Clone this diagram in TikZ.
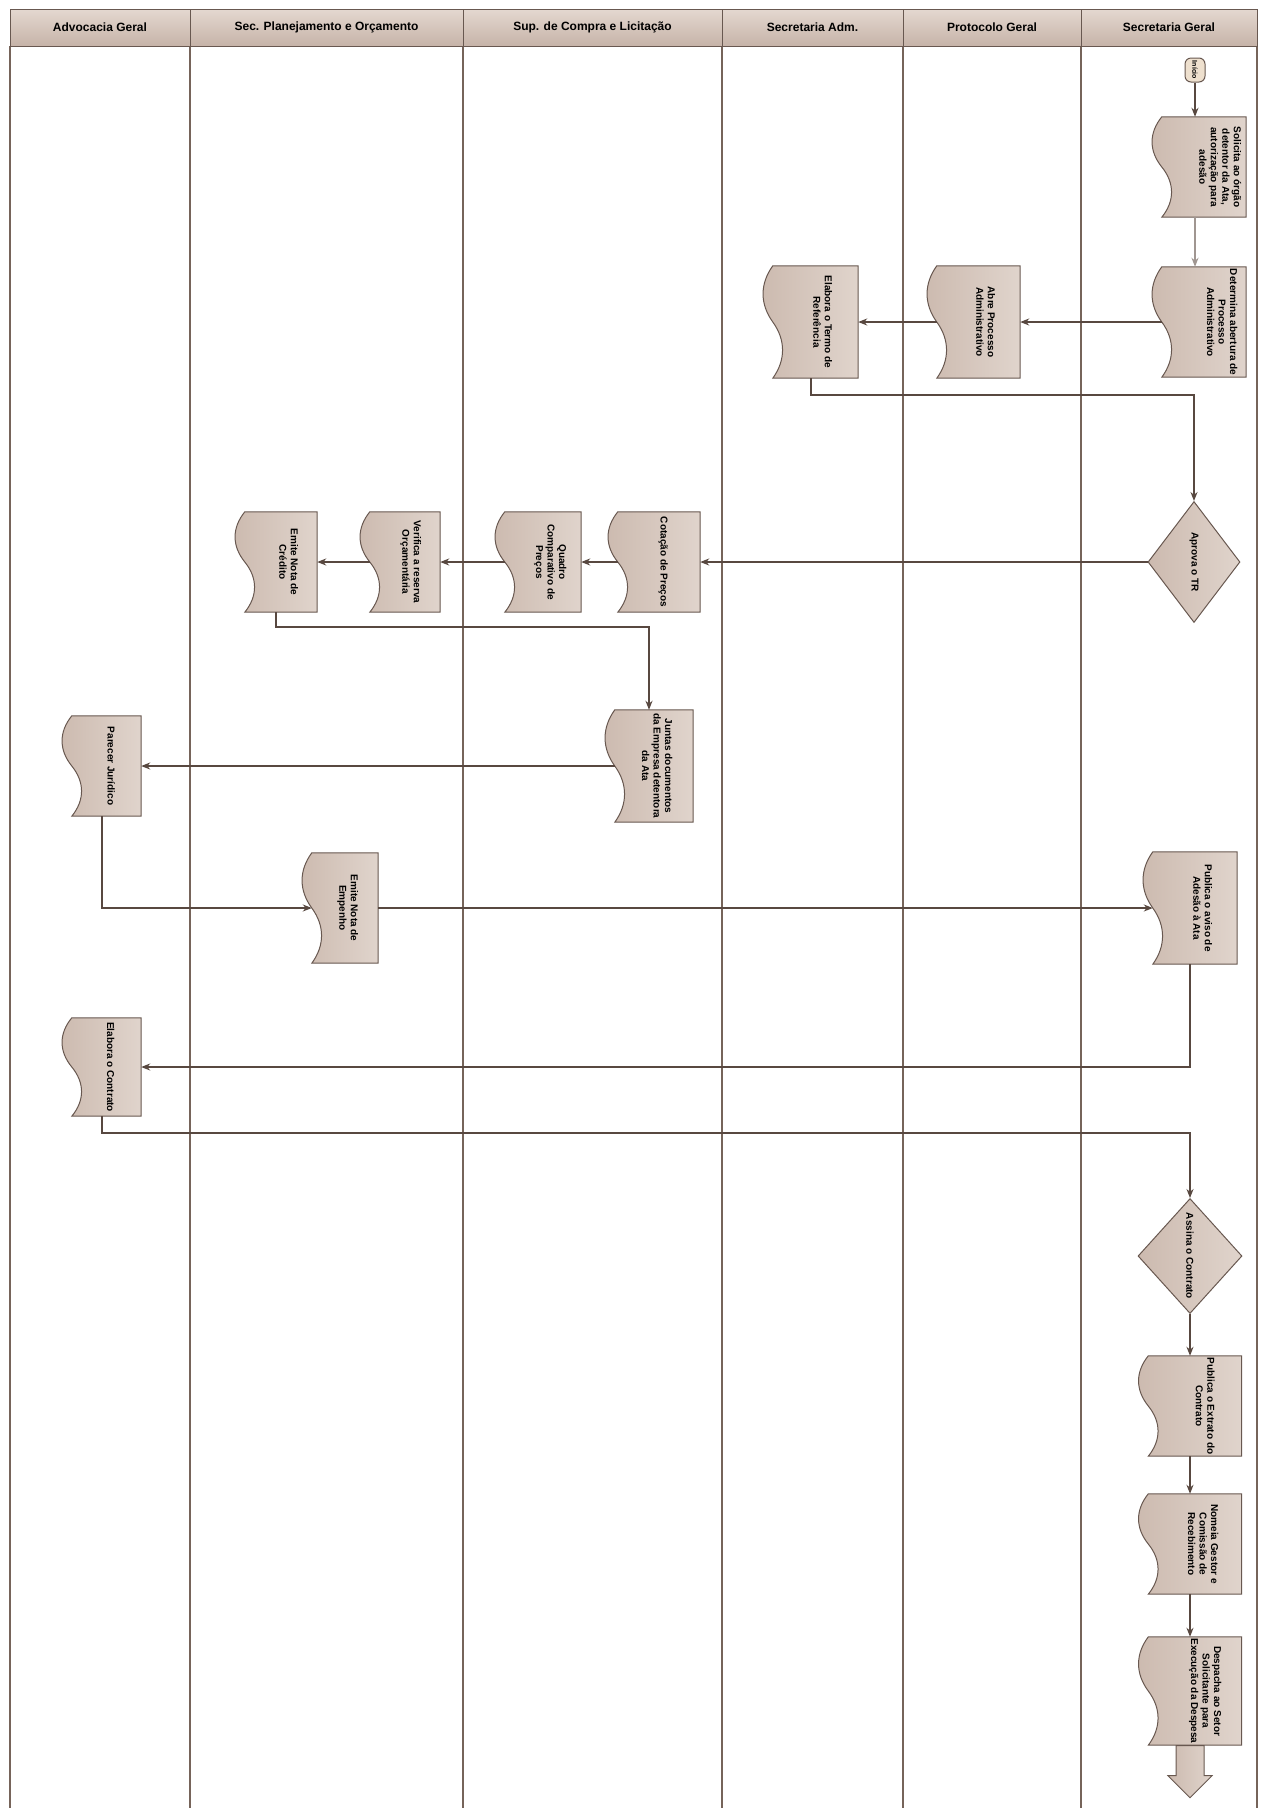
\documentclass[tikz,border=0pt]{standalone}
\usepackage{fontspec}
\setmainfont{Liberation Sans}
\usepackage{graphicx}
\usetikzlibrary{arrows.meta,positioning,calc,backgrounds,shapes.geometric,shapes.arrows}
\definecolor{headtop}{RGB}{228,216,208}
\definecolor{headbot}{RGB}{198,179,168}
\definecolor{docleft}{RGB}{204,186,175}
\definecolor{docright}{RGB}{224,212,204}
\definecolor{edgecol}{RGB}{104,88,80}
\definecolor{flowcol}{RGB}{88,72,64}
\definecolor{lanecol}{RGB}{118,100,90}
\definecolor{greycol}{RGB}{160,150,145}
\definecolor{startcol}{RGB}{238,224,206}

% rotated text of a document box, shifted right of the wavy side
\newcommand{\doctext}[2][20pt]{\hspace*{#1}\rotatebox{-90}{\begin{tabular}{@{}c@{}}#2\end{tabular}}}
% wavy outline behind a document node, and the point where arrows meet the wave
\newcommand{\docbg}[1]{%
  \path[docshape] (#1.north east) -- ($(#1.north west)+(10pt,0)$)
    .. controls ($(#1.north west)!0.16!(#1.south west)+(-3pt,0)$) and ($(#1.north west)!0.34!(#1.south west)+(-3pt,0)$) .. ($(#1.west)+(10pt,0)$)
    .. controls ($(#1.north west)!0.66!(#1.south west)+(23pt,0)$) and ($(#1.north west)!0.84!(#1.south west)+(23pt,0)$) .. ($(#1.south west)+(10pt,0)$)
    -- (#1.south east) -- cycle;
  \coordinate (#1w) at ($(#1.west)+(10pt,0)$);}

\begin{document}
\begin{tikzpicture}[x=1pt, y=-1pt,
    head/.style={rectangle, draw=edgecol, line width=1pt, top color=headtop, bottom color=headbot, minimum height=37pt, inner sep=0pt, font=\fontsize{12}{14}\selectfont\bfseries},
    lane/.style={draw=lanecol, line width=1.5pt},
    doc/.style={rectangle, inner sep=0pt, font=\fontsize{10}{11.5}\selectfont\bfseries},
    docshape/.style={draw=edgecol, line width=1pt, left color=docleft, right color=docright},
    dec/.style={diamond, aspect=0.8, inner sep=0pt, draw=edgecol, line width=1pt, left color=docleft, right color=docright, font=\fontsize{10}{11.5}\selectfont\bfseries},
    start/.style={rectangle, rounded corners=6pt, draw=edgecol, line width=1pt, fill=startcol, minimum width=20pt, minimum height=24pt, inner sep=0pt, font=\fontsize{7}{8}\selectfont\bfseries},
    flow/.style={draw=flowcol, line width=2pt, -{Stealth[length=9pt,width=7pt]}},
    bigarr/.style={single arrow, rotate=-90, draw=edgecol, line width=1pt, left color=docleft, right color=docright, minimum height=52pt, minimum width=43pt, single arrow head extend=8pt, single arrow head indent=0pt, inner sep=0pt},
]
\useasboundingbox (0,0) rectangle (1261,1808);

% lane headers
\node[head, minimum width=180pt] (h1) at (100,27.5) {Advocacia Geral};
\node[head, minimum width=273pt] (h2) at (326.5,27.5) {Sec. Planejamento e Orçamento};
\node[head, minimum width=259pt] (h3) at (592.5,27.5) {Sup. de Compra e Licitação};
\node[head, minimum width=181pt] (h4) at (812.5,27.5) {Secretaria Adm.};
\node[head, minimum width=178pt] (h5) at (992,27.5) {Protocolo Geral};
\node[head, minimum width=176pt] (h6) at (1169,27.5) {Secretaria Geral};

% steps
\node[start] (ini) at (1195,70) {\rotatebox{-90}{Início}};
\node[doc, minimum width=94pt, minimum height=100pt] (sol) at (1199,167) {\doctext[40pt]{Solicita ao órgão\\detentor da Ata,\\autorização para\\adesão}};
\node[doc, minimum width=94pt, minimum height=110pt] (det) at (1199,322) {\doctext[44pt]{Determina abertura de\\Processo\\Administrativo}};
\node[doc, minimum width=93pt, minimum height=112pt] (abre) at (973.5,322) {\doctext[22pt]{Abre Processo\\Administrativo}};
\node[doc, minimum width=95pt, minimum height=112pt] (ter) at (810.5,322) {\doctext[22pt]{Elabora o Termo de\\Referência}};
\node[dec, minimum width=92pt, minimum height=121pt] (apr) at (1194,562) {\rotatebox{-90}{Aprova o TR}};
\node[doc, minimum width=92pt, minimum height=100pt] (cot) at (654,562) {\doctext[18pt]{Cotação de Preços}};
\node[doc, minimum width=86pt, minimum height=100pt] (qua) at (538,562) {\doctext[24pt]{Quadro\\Comparativo de\\Preços}};
\node[doc, minimum width=80pt, minimum height=100pt] (ver) at (400,562) {\doctext[21pt]{Verifica a reserva\\Orçamentária}};
\node[doc, minimum width=82pt, minimum height=100pt] (cred) at (276,562) {\doctext[23pt]{Emite Nota de\\Crédito}};
\node[doc, minimum width=88pt, minimum height=112pt] (jun) at (649,766) {\doctext[14pt]{Juntas documentos\\da Empresa detentora\\da Ata}};
\node[doc, minimum width=79pt, minimum height=100pt] (par) at (101.5,766) {\doctext[17pt]{Parecer Jurídico}};
\node[doc, minimum width=76pt, minimum height=110pt] (emp) at (340,908) {\doctext[15pt]{Emite Nota de\\Empenho}};
\node[doc, minimum width=94pt, minimum height=112pt] (avi) at (1190,908) {\doctext[23pt]{Publica o aviso de\\Adesão à Ata}};
\node[doc, minimum width=79pt, minimum height=98pt] (con) at (101.5,1067) {\doctext[16pt]{Elabora o Contrato}};
\node[dec, minimum width=104pt, minimum height=115pt] (ass) at (1190,1256) {\rotatebox{-90}{Assina o Contrato}};
\node[doc, minimum width=103pt, minimum height=100pt] (ext) at (1190,1406) {\doctext[28pt]{Publica o Extrato do\\Contrato}};
\node[doc, minimum width=103pt, minimum height=100pt] (nom) at (1190,1544) {\doctext[24pt]{Nomeia Gestor e\\Comissão de\\Recebimento}};
\node[doc, minimum width=103pt, minimum height=108pt] (desp) at (1190,1691) {\doctext[30pt]{Despacha ao Setor\\Solicitante para\\Execução da Despesa}};
\node[bigarr, anchor=west] (fim) at (desp.south) {\rule{0pt}{27pt}};

\begin{scope}[on background layer]
  \draw[lane] (10,46) -- (10,1808) (190,46) -- (190,1808) (463,46) -- (463,1808)
    (722,46) -- (722,1808) (903,46) -- (903,1808) (1081,46) -- (1081,1808) (1257,46) -- (1257,1808);
  \foreach \n in {sol,det,abre,ter,cot,qua,ver,cred,jun,par,emp,avi,con,ext,nom,desp} {\docbg{\n}}
\end{scope}

% bends of the long connectors
\coordinate (k1) at (1000,395);
\coordinate (k2) at (450,627);
\coordinate (k3) at (600,1133);

\draw[flow] (ini.south) -- (ini.south |- sol.north);
\draw[flow, draw=greycol] (sol.south -| ini) -- (det.north -| ini);
\draw[flow] (detw) -- (detw -| abre.east);
\draw[flow] (abrew) -- (abrew -| ter.east);
\draw[flow] (ter.south) |- (k1) -| (apr.north);
\draw[flow] (apr.west) -- (apr.west -| cot.east);
\draw[flow] (cotw) -- (cotw -| qua.east);
\draw[flow] (quaw) -- (quaw -| ver.east);
\draw[flow] (verw) -- (verw -| cred.east);
\draw[flow] (cred.south) |- (k2) -| (jun.north);
\draw[flow] (junw) -- (junw -| par.east);
\draw[flow] (par.south) |- (empw);
\draw[flow] (emp.east) -- (emp.east -| aviw);
\draw[flow] (avi.south) |- (con.east);
\draw[flow] (con.south) |- (k3) -| (ass.north);
\draw[flow] (ass.south) -- (ext.north);
\draw[flow] (ext.south) -- (nom.north);
\draw[flow] (nom.south) -- (desp.north);
\end{tikzpicture}
\end{document}
